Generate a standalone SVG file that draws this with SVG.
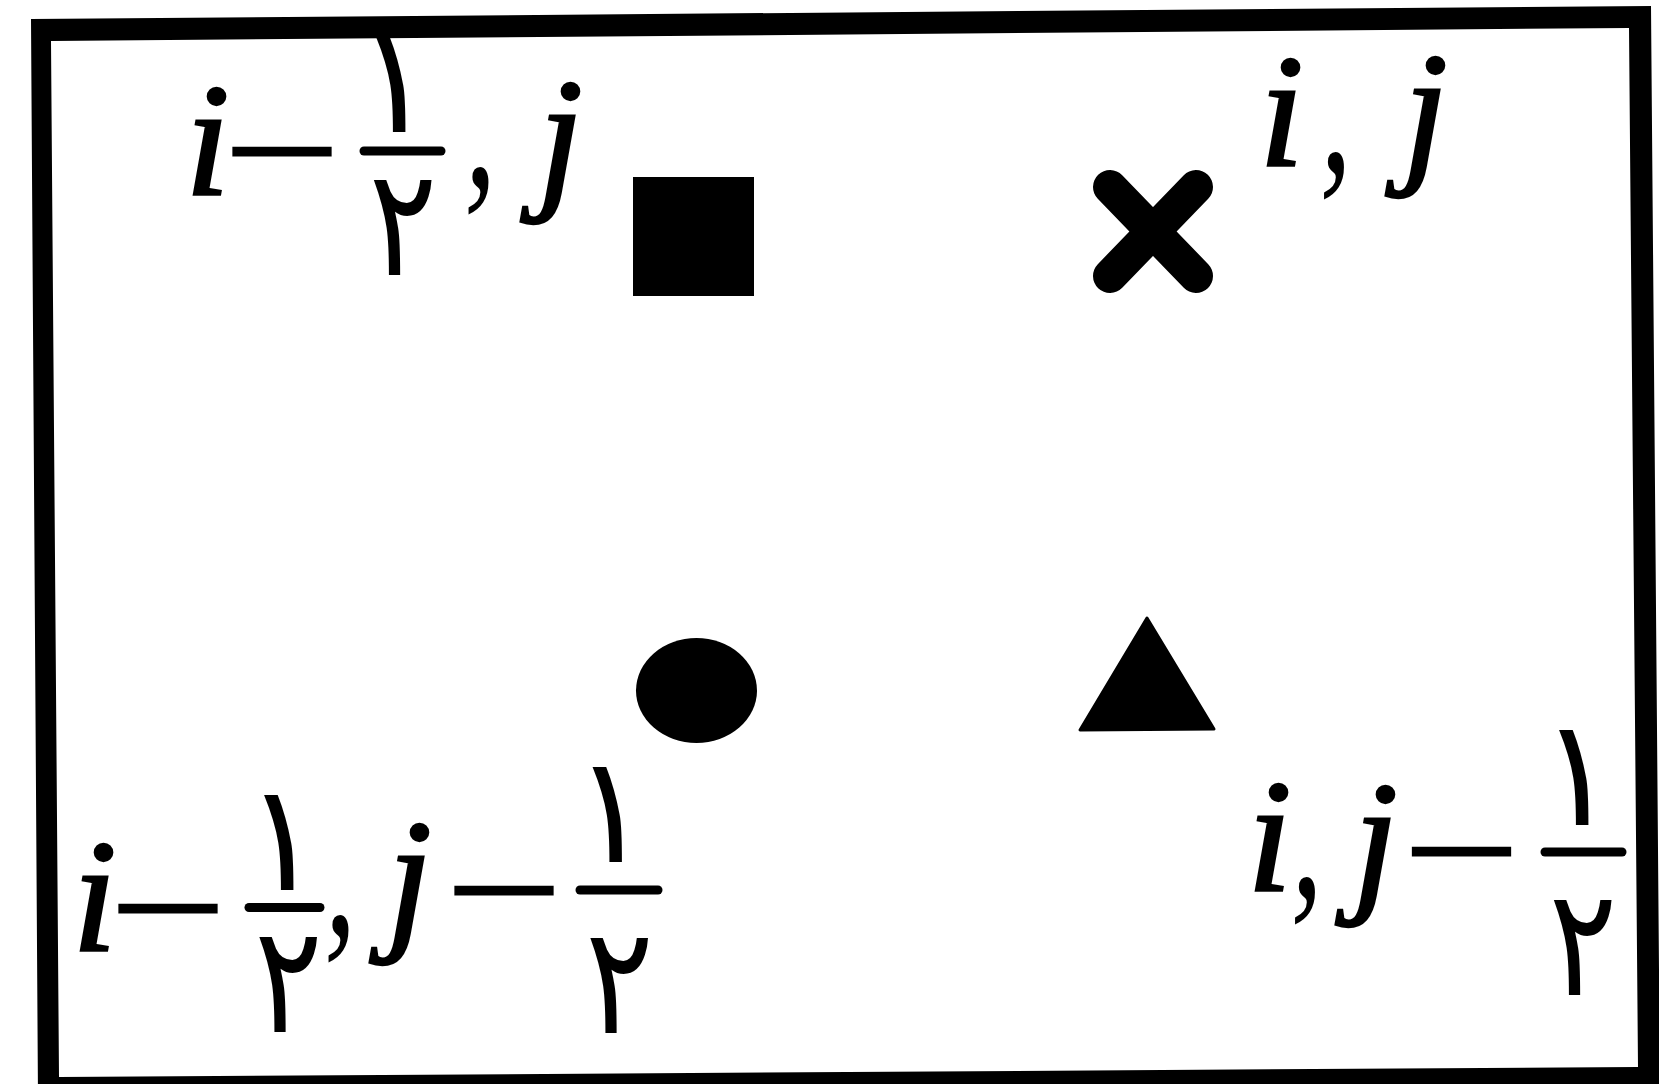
<svg xmlns="http://www.w3.org/2000/svg" width="1659" height="1084" viewBox="0 0 1659 1084">
<style>
.it{font-family:"Liberation Serif","DejaVu Serif",serif;font-style:italic;font-size:162px;fill:#000;stroke:#000;stroke-width:2.5}
.cm{font-family:"Liberation Serif","DejaVu Serif",serif;font-style:italic;font-size:185px;fill:#000;text-anchor:middle}
.dash{font-family:"Liberation Serif","DejaVu Serif",serif;font-size:93px;fill:#000;stroke:#000;stroke-width:5;text-anchor:middle}
.dg{font-family:"DejaVu Sans","Noto Sans",sans-serif;font-size:150px;fill:#000;text-anchor:middle}
.bar{stroke:#000;stroke-width:9;stroke-linecap:round}
</style>
<rect width="1659" height="1084" fill="#fff"/>
<g id="frame">
<path d="M31 19 L1651 6 L1660 1090 L38 1100 Z M51 41 L59 1077 L1638 1067 L1629 28 Z" fill="#000" fill-rule="evenodd"/>
</g>
<g id="node-square"><rect x="633" y="177" width="121" height="119" fill="#000"/></g>
<g id="node-cross"><path d="M1110 187 L1196 276 M1196 187 L1110 276" stroke="#000" stroke-width="34" stroke-linecap="round" fill="none"/></g>
<g id="node-circle"><ellipse cx="696.5" cy="690.5" rx="60.5" ry="52.5" fill="#000"/></g>
<g id="node-triangle"><polygon points="1147,618 1214,729 1080,730" fill="#000" stroke="#000" stroke-width="3" stroke-linejoin="round"/></g>
<g id="label-top-left">
<text class="it" x="185" y="195">i</text>
<text class="dash" x="282" y="172.7">—</text>
<line class="bar" x1="364" y1="151" x2="441" y2="151"/>
<text class="dg" transform="translate(395 132) scale(0.95 1)">۱</text>
<text class="dg" transform="translate(403 275) scale(0.85 1)">۲</text>
<text class="cm" transform="translate(480.5 186) scale(0.7 1)">,</text>
<text class="it" x="538" y="190">j</text>
</g>
<g id="label-top-right">
<text class="it" x="1259" y="166">i</text>
<text class="cm" transform="translate(1336 171) scale(0.7 1)">,</text>
<text class="it" x="1403" y="164">j</text>
</g>
<g id="label-bottom-left">
<text class="it" x="72" y="951">i</text>
<text class="dash" x="168" y="929.7">—</text>
<line class="bar" x1="249" y1="907.5" x2="320" y2="907.5"/>
<text class="dg" transform="translate(283 890) scale(0.95 1)">۱</text>
<text class="dg" transform="translate(288.5 1032) scale(0.85 1)">۲</text>
<text class="cm" transform="translate(340.5 934) scale(0.7 1)">,</text>
<text class="it" x="387" y="931">j</text>
<text class="dash" x="504" y="911.7">—</text>
<line class="bar" x1="580" y1="890" x2="658" y2="890"/>
<text class="dg" transform="translate(611.5 862) scale(0.95 1)">۱</text>
<text class="dg" transform="translate(619.5 1033) scale(0.85 1)">۲</text>
</g>
<g id="label-bottom-right">
<text class="it" x="1247" y="891">i</text>
<text class="cm" transform="translate(1307 896) scale(0.7 1)">,</text>
<text class="it" x="1353" y="893">j</text>
<text class="dash" x="1461.5" y="872.7">—</text>
<line class="bar" x1="1545" y1="852" x2="1622" y2="852"/>
<text class="dg" transform="translate(1578 825) scale(0.95 1)">۱</text>
<text class="dg" transform="translate(1583 995) scale(0.85 1)">۲</text>
</g>
</svg>
